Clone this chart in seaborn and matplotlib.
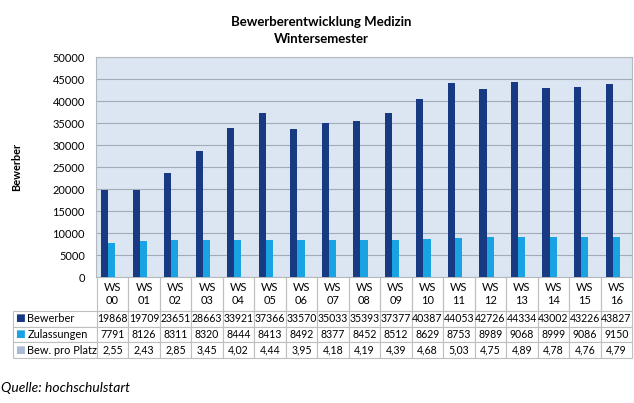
import pandas as pd
import matplotlib.pyplot as plt
import seaborn as sns

# data (Excel data table below the bars)
semester = ['WS\n00', 'WS\n01', 'WS\n02', 'WS\n03', 'WS\n04', 'WS\n05', 'WS\n06',
            'WS\n07', 'WS\n08', 'WS\n09', 'WS\n10', 'WS\n11', 'WS\n12', 'WS\n13',
            'WS\n14', 'WS\n15', 'WS\n16']
bewerber = [19868, 19709, 23651, 28663, 33921, 37366, 33570, 35033, 35393,
            37377, 40387, 44053, 42726, 44334, 43002, 43226, 43827]
zulassungen = [7791, 8126, 8311, 8320, 8444, 8413, 8492, 8377, 8452,
               8512, 8629, 8753, 8989, 9068, 8999, 9086, 9150]
pro_platz = [2.55, 2.43, 2.85, 3.45, 4.02, 4.44, 3.95, 4.18, 4.19,
             4.39, 4.68, 5.03, 4.75, 4.89, 4.78, 4.76, 4.79]
serien = ['Bewerber', 'Zulassungen', 'Bew. pro Platz']
farben = ['#173A82', '#19A3E3', '#A9B9D6']

df = pd.DataFrame({
    'Semester': semester * 3,
    'Serie': [s for s in serien for _ in semester],
    'Wert': bewerber + zulassungen + pro_platz,
})

plt.rcParams['font.family'] = ['Lato', 'DejaVu Sans']
W, H = 634, 403
fs = 7.9
fs_tab = 7.6

fig = plt.figure(figsize=(W / 100, H / 100), dpi=100)
ax = fig.add_axes([96 / W, 1 - 277 / H, 536 / W, 220 / H])

sns.barplot(data=df, x='Semester', y='Wert', hue='Serie', hue_order=serien,
            palette=farben, width=0.68, gap=0, saturation=1, legend=False,
            linewidth=0, ax=ax, zorder=3)

ax.set_facecolor('#DCE6F2')
ax.set_xlim(-0.5, 16.5)
ax.set_ylim(0, 50000)
ax.set_yticks(range(0, 50001, 5000))
ax.grid(axis='y', color='#A3ABB6', lw=0.8, zorder=0)
ax.set_axisbelow(True)
ax.tick_params(axis='y', length=0, labelsize=fs, pad=8)
ax.tick_params(axis='x', bottom=False, labelbottom=False)
ax.set_xlabel('')
ax.set_ylabel('')
for sp in ax.spines.values():
    sp.set_color('#B4B9C0')
    sp.set_linewidth(0.8)

# data table under the plot
zeilen = [['Bewerber'] + [str(v) for v in bewerber],
          ['Zulassungen'] + [str(v) for v in zulassungen],
          ['Bew. pro Platz'] + [f'{v:.2f}'.replace('.', ',') for v in pro_platz]]
tab = ax.table(cellText=zeilen, colLabels=[''] + semester,
               colWidths=[84] + [31.53] * 17, cellLoc='center', colLoc='center',
               bbox=[(13 - 96) / 536, (277 - 358) / 220, 619 / 536, 81 / 220])
tab.auto_set_font_size(False)
tab.set_fontsize(fs_tab)
for (r, c), cell in tab.get_celld().items():
    cell.set_edgecolor('#BFBFBF')
    cell.set_linewidth(0.8)
    cell.set_height(34 if r == 0 else 15.67)
    if r == 0:
        cell.visible_edges = 'open' if c == 0 else 'BRL'
        cell.get_text().set_fontsize(fs)
    if c == 0 and r > 0:
        cell.get_text().set_ha('left')
        cell.get_text().set_fontsize(fs)
        cell.PAD = 0.17

# colour keys in front of the row labels
for i, f in enumerate(farben):
    ax.text((19.5 - 96) / 536, (277 - 318.5 - 15.67 * i) / 220, '\u25A0',
            color=f, fontsize=7.5, family='DejaVu Sans', ha='center',
            va='center', transform=ax.transAxes, clip_on=False)

fig.text(321 / W, 1 - 22 / H, 'Bewerberentwicklung Medizin', ha='center',
         va='center', fontsize=9.5, fontweight='bold')
fig.text(321 / W, 1 - 39 / H, 'Wintersemester', ha='center', va='center',
         fontsize=9.5, fontweight='bold')
fig.text(17 / W, 1 - 167 / H, 'Bewerber', rotation=90, ha='center',
         va='center', fontsize=fs, fontweight='bold')
fig.text(1 / W, 1 - 388 / H, 'Quelle: hochschulstart', ha='left', va='center',
         fontsize=10, style='italic')

fig.savefig('out.png', dpi=100)
